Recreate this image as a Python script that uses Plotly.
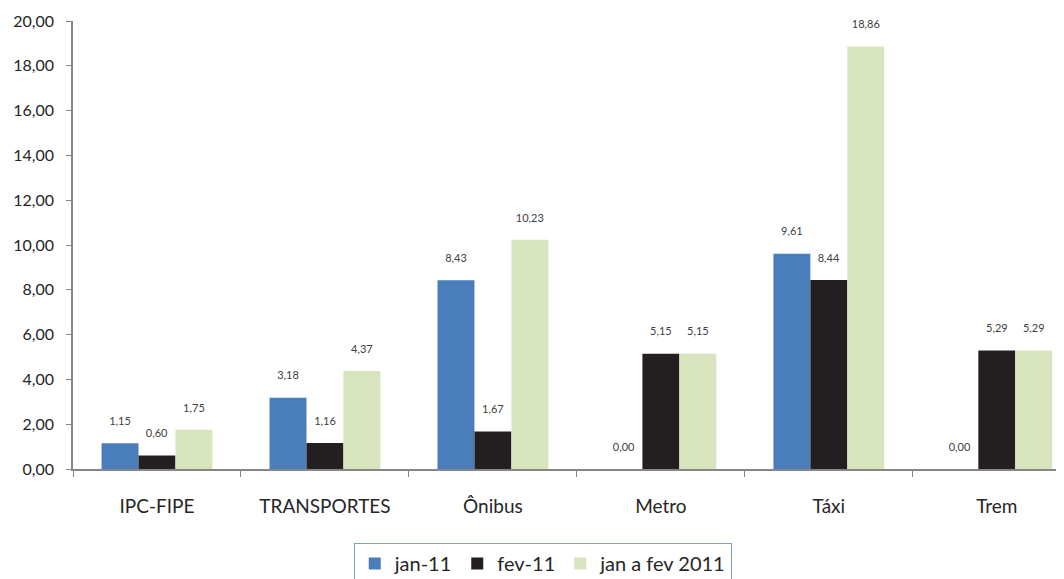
import plotly.graph_objects as go

categorias = ["IPC-FIPE", "TRANSPORTES", "Ônibus", "Metro", "Táxi", "Trem"]
jan_11 = [1.15, 3.18, 8.43, 0.00, 9.61, 0.00]
fev_11 = [0.60, 1.16, 1.67, 5.15, 8.44, 5.29]
jan_fev_2011 = [1.75, 4.37, 10.23, 5.15, 18.86, 5.29]

series = [
    ("jan-11", jan_11, "#4a7ebb"),
    ("fev-11", fev_11, "#231f20"),
    ("jan a fev 2011", jan_fev_2011, "#d7e4bd"),
]


def rotulo(v):
    return f"{v:.2f}".replace(".", ",") + "<br><span style='font-size:5px'> </span>"


fig = go.Figure()
for nome, valores, cor in series:
    fig.add_trace(go.Bar(
        x=categorias,
        y=valores,
        name=nome,
        marker=dict(color=cor, line=dict(width=0)),
        text=[rotulo(v) for v in valores],
        textposition="outside",
        textfont=dict(size=11, color="#404040"),
        cliponaxis=False,
    ))

fig.update_layout(
    width=1056,
    height=571,
    barmode="group",
    bargap=0.34,
    bargroupgap=0,
    separators=",.",
    plot_bgcolor="white",
    paper_bgcolor="white",
    font=dict(family="Lato, 'Open Sans', sans-serif", color="#262626"),
    margin=dict(l=65, r=0, t=13, b=110, autoexpand=False),
    legend=dict(
        orientation="h",
        x=0.474,
        xanchor="center",
        y=-0.165,
        yanchor="top",
        bordercolor="#7f9fcf",
        borderwidth=1,
        bgcolor="white",
        font=dict(size=20),
        itemwidth=30,
    ),
    xaxis=dict(
        range=[-0.5, 5.4],
        showline=True,
        linecolor="#868686",
        linewidth=1.5,
        ticks="outside",
        tickson="boundaries",
        ticklen=6,
        tickcolor="#868686",
        tickfont=dict(size=19),
        ticklabelstandoff=19,
    ),
    yaxis=dict(
        range=[0, 20],
        dtick=2,
        tickformat=".2f",
        showgrid=False,
        zeroline=False,
        showline=True,
        linecolor="#868686",
        linewidth=1.5,
        ticks="outside",
        ticklen=5,
        tickcolor="#868686",
        tickfont=dict(size=16),
        ticklabelstandoff=9,
    ),
)

fig.write_html("out.html")
